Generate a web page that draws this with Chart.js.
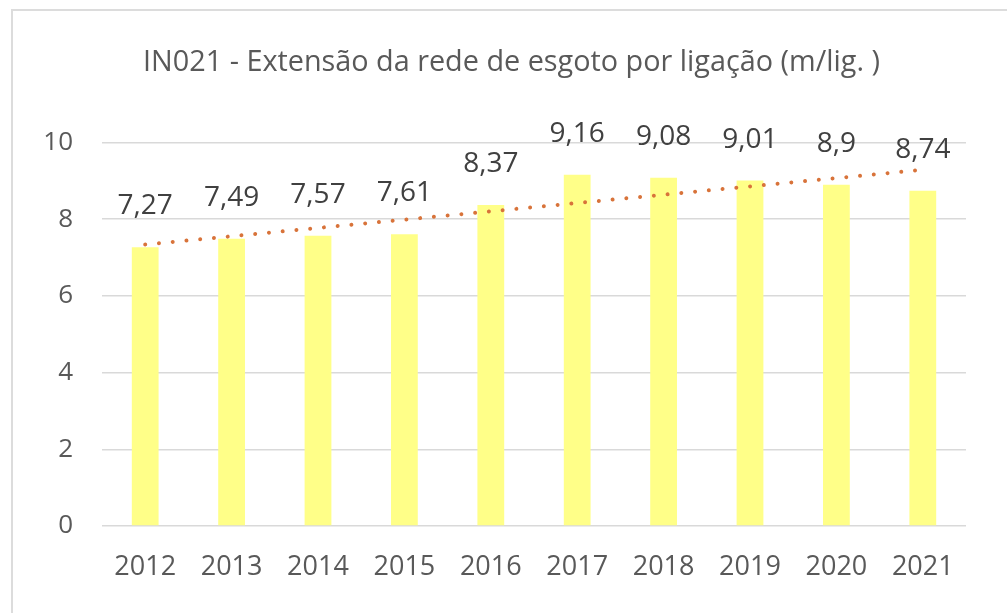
<!DOCTYPE html>
<html>
<head>
<meta charset="utf-8">
<script src="https://cdn.jsdelivr.net/npm/chart.js@4"></script>
<style>
    html, body { margin: 0; padding: 0; background: #fff; }
    #wrap { position: relative; width: 1007px; height: 613px; overflow: hidden; }
    #frame { position: absolute; left: 11px; top: 9px; width: 1100px; height: 700px;
             border-top: 2px solid #dcdcdc; border-left: 2px solid #dcdcdc; }
    #chart { position: absolute; left: 0; top: 0; }
</style>
</head>
<body>
<div id="wrap">
    <div id="frame"></div>
    <canvas id="chart" width="1007" height="613"></canvas>
</div>
<script>
// data
const years = ['2012', '2013', '2014', '2015', '2016', '2017', '2018', '2019', '2020', '2021'];
const values = [7.27, 7.49, 7.57, 7.61, 8.37, 9.16, 9.08, 9.01, 8.9, 8.74];
const trendValues = [7.34, null, null, null, null, null, null, null, null, 9.29];
const yTicks = [0, 2, 4, 6, 8, 10];
const titleText = 'IN021 - Extensão da rede de esgoto por ligação (m/lig. )';

const FONT = "'Open Sans', 'DejaVu Sans', sans-serif";
const TEXT_COLOR = '#595959';

// draws the value above every bar, with a decimal comma
const barLabels = {
    id: 'barLabels',
    afterDatasetsDraw(chart) {
        const ctx = chart.ctx;
        const meta = chart.getDatasetMeta(1); // the bar dataset
        ctx.save();
        ctx.font = '28px ' + FONT;
        ctx.fillStyle = '#404040';
        ctx.textAlign = 'center';
        ctx.textBaseline = 'alphabetic';
        meta.data.forEach((bar, i) => {
            const txt = String(values[i]).replace('.', ',');
            ctx.fillText(txt, bar.x, bar.y - 33);
        });
        ctx.restore();
    }
};

const ctx = document.getElementById('chart').getContext('2d');
new Chart(ctx, {
    data: {
        labels: years,
        datasets: [
            {
                type: 'line',
                data: trendValues,
                spanGaps: true,
                borderColor: '#D8733A',
                borderWidth: 4,
                borderDash: [0.01, 13.8],
                borderCapStyle: 'round',
                pointRadius: 0,
                fill: false,
                order: 0
            },
            {
                type: 'bar',
                data: values,
                backgroundColor: '#FFFF88',
                borderWidth: 0,
                barPercentage: 0.31,
                categoryPercentage: 1,
                order: 1
            }
        ]
    },
    options: {
        responsive: false,
        animation: false,
        layout: { padding: { left: 16, right: 0, top: 0, bottom: 0 } },
        plugins: {
            legend: { display: false },
            tooltip: { enabled: false },
            title: {
                display: true,
                text: titleText,
                color: TEXT_COLOR,
                font: { family: FONT, size: 28.8, weight: 'normal' },
                padding: { top: 46, bottom: 62 }
            }
        },
        scales: {
            x: {
                offset: true,
                grid: { display: false, drawTicks: false },
                border: { display: false },
                ticks: {
                    color: TEXT_COLOR,
                    font: { family: FONT, size: 27 },
                    padding: 25,
                    maxRotation: 0
                },
                afterFit(scale) { scale.height = 87; }
            },
            y: {
                min: 0,
                max: 10,
                afterBuildTicks(scale) {
                    scale.ticks = yTicks.map(v => ({ value: v }));
                },
                grid: { color: '#d9d9d9', lineWidth: 1.5, drawTicks: false },
                border: { display: false },
                ticks: {
                    color: TEXT_COLOR,
                    font: { family: FONT, size: 26 },
                    padding: 29
                },
                afterFit(scale) { scale.width = 86; }
            },
            // empty right-hand axis, only keeps the plot area off the right edge
            yRight: {
                position: 'right',
                min: 0,
                max: 10,
                grid: { display: false, drawTicks: false },
                border: { display: false },
                ticks: { display: false },
                afterFit(scale) { scale.width = 41; }
            }
        }
    },
    plugins: [barLabels]
});
</script>
</body>
</html>
